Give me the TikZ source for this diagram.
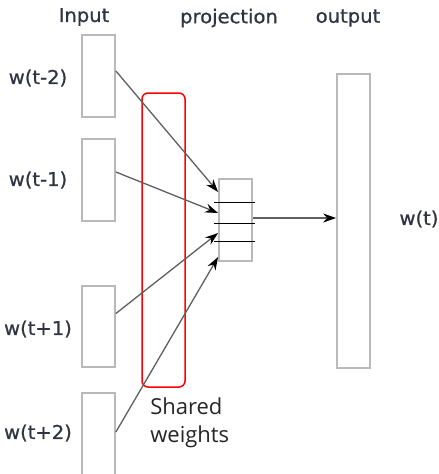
\documentclass[tikz,border=0pt]{standalone}
\usepackage{fontspec}
\usepackage{xcolor}
\usepackage{tikz}
\usetikzlibrary{arrows.meta,positioning}
\newfontfamily\labelfont[FakeBold=0.8]{DejaVu Sans}
\newfontfamily\notefont{Open Sans}
\definecolor{boxgray}{RGB}{185,185,185}
\definecolor{linegray}{RGB}{95,95,95}
\definecolor{labelgray}{RGB}{48,52,66}
\newcommand{\lbl}[1]{\scalebox{1.03}[1]{#1}}

\begin{document}
\begin{tikzpicture}[x=1pt, y=-1pt, >={Stealth[length=13pt,width=9pt,color=black]}, semithick,
  vec/.style={draw=boxgray, line width=1.8pt, minimum width=33pt, inner sep=0pt},
  word/.style={text=labelgray, font=\labelfont\fontsize{19}{22}\selectfont, inner sep=0pt},
  conn/.style={->, draw=linegray, line width=1.3pt},
  hline/.style={draw=black, line width=1pt}]
\clip (0,0) rectangle (439,474);
% input layer
\node[vec, minimum height=82pt] (in1) at (98.5,76) {};
\node[vec, minimum height=82pt] (in2) at (98.5,180) {};
\node[vec, minimum height=81pt] (in3) at (98.5,326.5) {};
\node[vec, minimum height=84pt] (in4) at (98.5,435) {};
\node[word] (l1) at (38,78) {\lbl{w(t-2)}};
\node[word] (l2) at (38,180) {\lbl{w(t-1)}};
\node[word] (l3) at (38,329) {\lbl{w(t+1)}};
\node[word] (l4) at (38,433) {\lbl{w(t+2)}};
% projection and output
\node[vec, minimum height=82pt] (proj) at (235.5,220) {};
\node[vec, minimum height=294pt] (out) at (353.5,221) {};
\node[word] (lout) at (419,219) {\lbl{w(t)}};
% column titles
\node[word] (tin) at (84,17) {\lbl{Input}};
\node[word] (tproj) at (229,18) {\lbl{projection}};
\node[word] (tout) at (348,18) {\lbl{output}};
% shared weights
\node[draw=red, line width=1.5pt, rounded corners=6pt, minimum width=43pt, minimum height=294pt] (shared) at (163.5,240) {};
\node[anchor=north west, align=left, inner sep=0pt, font=\notefont\fontsize{22}{28}\selectfont, text=black!85] (note) at (150,397) {Shared\\weights};

\foreach \dy in {18,-3,-21}
  \draw[hline] ([xshift=-4pt,yshift=\dy pt]proj.west) -- ([xshift=2pt,yshift=\dy pt]proj.east);
\path
([yshift=5pt]in1.east) edge[conn] ([yshift=28pt]proj.west)
([yshift=8pt]in2.east) edge[conn] ([yshift=7pt]proj.west)
([yshift=13pt]in3.east) edge[conn] ([yshift=-13pt]proj.west)
([yshift=3pt]in4.east) edge[conn] ([yshift=-37pt]proj.west)
([yshift=2pt]proj.east) edge[conn] ([yshift=2pt]proj.east -| out.west);
\end{tikzpicture}
\end{document}
